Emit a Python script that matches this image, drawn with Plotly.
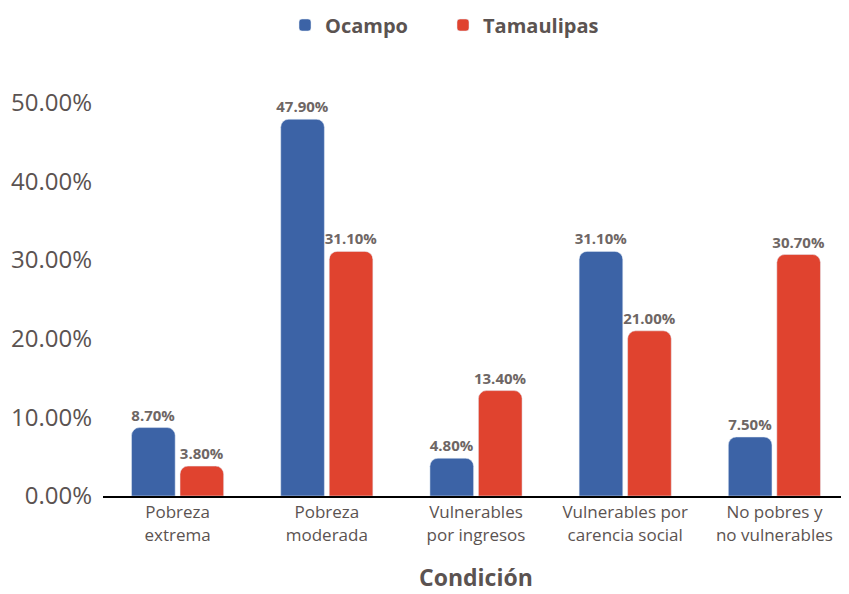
import plotly.graph_objects as go

categories = ["Pobreza<br>extrema", "Pobreza<br>moderada", "Vulnerables<br>por ingresos",
              "Vulnerables por<br>carencia social", "No pobres y<br>no vulnerables"]
ocampo = [8.7, 47.9, 4.8, 31.1, 7.5]
tamaulipas = [3.8, 31.1, 13.4, 21.0, 30.7]
tick_vals = [0, 10, 20, 30, 40, 50]

FONT = "Open Sans"
GRAY = "#5b5351"
LBL = "#6e6664"
W, H = 841, 586  # page body has an 8px margin
T, B = 79, 98

fig = go.Figure()
for name, vals, col in [("Ocampo", ocampo, "#3c63a6"), ("Tamaulipas", tamaulipas, "#e0432f")]:
    fig.add_trace(go.Bar(
        x=categories, y=vals, name=name,
        marker=dict(color=col, cornerradius=8),
        text=[f"{v:.2f}%" for v in vals], textposition="outside",
        textfont=dict(family=FONT, size=15, color=LBL, weight="bold"),
        constraintext="none", cliponaxis=False,
    ))

plot_h = H - T - B
fig.update_layout(
    width=W, height=H,
    margin=dict(l=95, r=0, t=T, b=B, autoexpand=False),
    paper_bgcolor="white", plot_bgcolor="white",
    barmode="group", bargap=0.35, bargroupgap=0.1,
    font=dict(family=FONT, color=GRAY),
    legend=dict(orientation="h", xref="container", x=277 / W, xanchor="left",
                yref="container", y=1 - 17 / H, yanchor="middle",
                font=dict(size=20, color=GRAY, weight="bold"),
                itemwidth=30, entrywidth=113),
    showlegend=True,
    annotations=[dict(text="<b>Condición</b>", xref="paper", yref="paper",
                      x=0.5, y=-(569 - (H - B)) / plot_h, yanchor="middle",
                      showarrow=False, font=dict(size=23, color=GRAY))],
)
fig.update_xaxes(showline=True, linecolor="black", linewidth=2, ticks="", automargin=False,
                 tickfont=dict(size=17, color=GRAY))
fig.update_yaxes(range=[0, 52], tickvals=tick_vals, ticktext=[f"{v:.2f}%" for v in tick_vals],
                 showgrid=False, zeroline=False, tickfont=dict(size=24, color=GRAY), ticks="",
                 ticklabelstandoff=10, automargin=False)

fig.write_html("out.html")
